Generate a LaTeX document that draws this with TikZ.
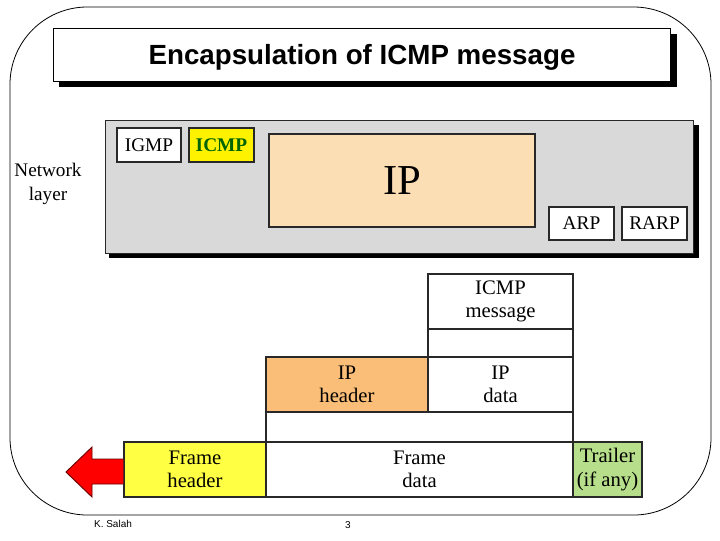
\documentclass[tikz,border=0pt]{standalone}
\usepackage{fontspec}
\setmainfont{Liberation Serif}
\newfontfamily\titlefont{Liberation Sans}
\usetikzlibrary{fit}
\definecolor{grayfill}{RGB}{217,217,217}
\definecolor{peach}{RGB}{252,222,180}
\definecolor{iphdr}{RGB}{250,190,120}
\definecolor{frmyel}{RGB}{255,255,68}
\definecolor{trlgreen}{RGB}{183,222,138}
\definecolor{icmpgreen}{RGB}{0,100,0}
\definecolor{edge}{RGB}{40,40,40}
\begin{document}
\begin{tikzpicture}[x=0.75pt,y=-0.75pt,
  box/.style={draw=edge, line width=0.9pt, inner sep=0pt},
  topbox/.style={box, fill=white},
  toptxt/.style={align=center, inner sep=0pt, font=\fontsize{14.5}{17}\selectfont},
  lowbox/.style={box, fill=white},
  lowtxt/.style={align=center, inner sep=0pt, font=\fontsize{15.5}{17.5}\selectfont},
  shadow/.style={fill=black}]
\useasboundingbox (0,0) rectangle (720,540);
% outer frame
\draw[line width=0.6pt, rounded corners=58pt] (10,7) rectangle (711,515);
% title
\fill[shadow] (59,34) rectangle (677,87);
\node[fit={(53,28) (670,81)}, draw, line width=0.6pt, fill=white, inner sep=0pt] (title) {};
\node[font=\titlefont\bfseries\fontsize{20.8}{25}\selectfont, inner sep=0pt] (titletxt) at (362,57) {Encapsulation of ICMP message};
% network layer
\fill[shadow] (109,125) rectangle (699,258);
\node[fit={(105,120) (693,253)}, draw=edge, line width=0.6pt, fill=grayfill, inner sep=0pt] (netlayer) {};
\node[align=center, font=\fontsize{14.4}{17.5}\selectfont] (netlbl) at (48,184) {Network\\layer};
\node[topbox, fit={(117,128) (181,162)}] (igmp) {};
\node[toptxt] at (igmp.center) {IGMP};
\node[topbox, fit={(189,128) (254,162)}, fill=yellow] (icmp) {};
\node[toptxt, text=icmpgreen, font=\bfseries\fontsize{14.5}{17}\selectfont] at (icmp.center) {ICMP};
\node[topbox, fit={(269,134) (535,227)}, fill=peach] (ip) {};
\node[toptxt, font=\fontsize{32}{36}\selectfont] at (ip.center) {IP};
\node[topbox, fit={(549,207) (614,240)}] (arp) {};
\node[toptxt] at (arp.center) {ARP};
\node[topbox, fit={(622,207) (687,240)}] (rarp) {};
\node[toptxt] at (rarp.center) {RARP};
% encapsulation stack
\node[lowbox, fit={(428,274) (573,329)}] (icmpmsg) {};
\node[lowtxt] at (icmpmsg.center) {ICMP\\message};
\node[lowbox, fit={(428,329) (573,357)}] (pad1) {};
\node[lowbox, fit={(266,357) (428,412)}, fill=iphdr] (iphead) {};
\node[lowtxt] at (iphead.center) {IP\\header};
\node[lowbox, fit={(428,357) (573,412)}] (ipdata) {};
\node[lowtxt] at (ipdata.center) {IP\\data};
\node[lowbox, fit={(266,412) (573,442)}] (pad2) {};
\node[lowbox, fit={(124,442) (266,497)}, fill=frmyel] (frhead) {};
\node[lowtxt] at (frhead.center) {Frame\\header};
\node[lowbox, fit={(266,442) (573,497)}] (frdata) {};
\node[lowtxt] at (frdata.center) {Frame\\data};
\node[lowbox, fit={(573,442) (642,497)}, fill=trlgreen] (trailer) {};
\node[lowtxt] at (trailer.center) {Trailer\\(if any)};
% arrow
\draw[fill=red, draw=black!60!red, line width=0.7pt]
  (frhead.west |- 0,459) -- (92,459) -- (92,447) -- (66,472) -- (92,497) -- (92,484) -- (frhead.west |- 0,484);
% footer
\node[font=\titlefont\fontsize{7.5}{9}\selectfont] (author) at (113,524) {K. Salah};
\node[font=\titlefont\fontsize{7.5}{9}\selectfont] (pageno) at (348,525) {3};
\end{tikzpicture}
\end{document}
